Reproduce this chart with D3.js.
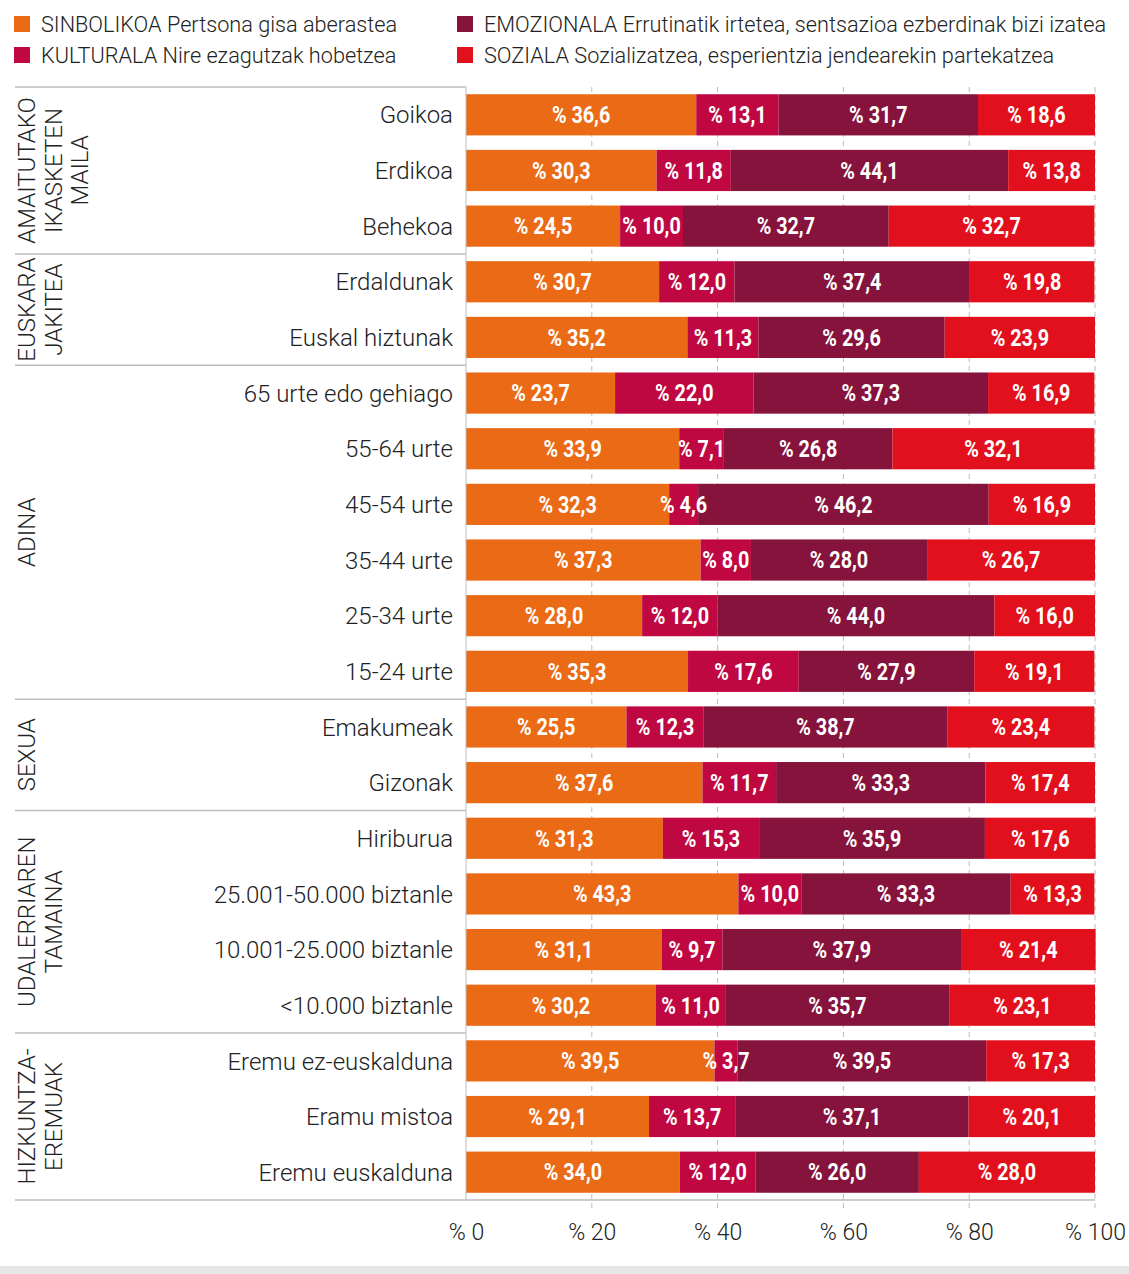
<!DOCTYPE html>
<html><head><meta charset="utf-8">
<script src="https://cdn.jsdelivr.net/npm/d3@7"></script>
<style>
body{margin:0;background:#fff;}
svg{display:block;}
</style></head>
<body>
<script>
const categories = ["Goikoa","Erdikoa","Behekoa","Erdaldunak","Euskal hiztunak","65 urte edo gehiago","55-64 urte","45-54 urte","35-44 urte","25-34 urte","15-24 urte","Emakumeak","Gizonak","Hiriburua","25.001-50.000 biztanle","10.001-25.000 biztanle","<10.000 biztanle","Eremu ez-euskalduna","Eramu mistoa","Eremu euskalduna"];
const sinbolikoa = [36.6,30.3,24.5,30.7,35.2,23.7,33.9,32.3,37.3,28.0,35.3,25.5,37.6,31.3,43.3,31.1,30.2,39.5,29.1,34.0];
const kulturala  = [13.1,11.8,10.0,12.0,11.3,22.0,7.1,4.6,8.0,12.0,17.6,12.3,11.7,15.3,10.0,9.7,11.0,3.7,13.7,12.0];
const emozionala = [31.7,44.1,32.7,37.4,29.6,37.3,26.8,46.2,28.0,44.0,27.9,38.7,33.3,35.9,33.3,37.9,35.7,39.5,37.1,26.0];
const soziala    = [18.6,13.8,32.7,19.8,23.9,16.9,32.1,16.9,26.7,16.0,19.1,23.4,17.4,17.6,13.3,21.4,23.1,17.3,20.1,28.0];
const seriesNames = ["SINBOLIKOA Pertsona gisa aberastea","KULTURALA Nire ezagutzak hobetzea","EMOZIONALA Errutinatik irtetea, sentsazioa ezberdinak bizi izatea","SOZIALA Sozializatzea, esperientzia jendearekin partekatzea"];
const groupNames = [["AMAITUTAKO","IKASKETEN","MAILA"],["EUSKARA","JAKITEA"],["ADINA"],["SEXUA"],["UDALERRIAREN","TAMAINA"],["HIZKUNTZA-","EREMUAK"]];
const groupSizes = [3,2,6,2,4,3];
const xTicks = [0,20,40,60,80,100];
const colors = ["#EB6A16","#BF0741","#85133B","#E2101C"];

const W = 1129, H = 1274;
const svg = d3.select("body").append("svg").attr("width",W).attr("height",H);
const lightFont = "Roboto";
const valFont = "Roboto";

const x = d3.scaleLinear().domain([0,100]).range([466,1095]);
const y = d3.scaleBand().domain(categories).range([87,1200]).paddingInner(0.26).paddingOuter(0.13);

// gridlines
svg.append("g").selectAll("line").data(xTicks.slice(1)).join("line")
  .attr("x1",d=>x(d)).attr("x2",d=>x(d)).attr("y1",87).attr("y2",1208)
  .attr("stroke","#bdbdbd").attr("stroke-width",1).attr("stroke-dasharray","5,4");

// stacked bars
const rows = categories.map((c,i)=>({cat:c, vals:[sinbolikoa[i],kulturala[i],emozionala[i],soziala[i]]}));
const segs = [];
rows.forEach(r=>{ let acc=0; r.vals.forEach((v,k)=>{ segs.push({cat:r.cat,k,v,x0:acc,x1:acc+v}); acc+=v; }); });
const bars = svg.append("g");
bars.selectAll("rect").data(segs).join("rect")
  .attr("x",d=>x(d.x0)).attr("width",d=>x(d.x1)-x(d.x0))
  .attr("y",d=>y(d.cat)).attr("height",y.bandwidth())
  .attr("fill",d=>colors[d.k]);
bars.selectAll("text").data(segs).join("text")
  .attr("transform",d=>`translate(${(x(d.x0)+x(d.x1))/2},${y(d.cat)+y.bandwidth()/2}) scale(0.86,1)`)
  .attr("dy","0.36em").attr("text-anchor","middle")
  .attr("fill","#fff").attr("font-family",valFont).attr("font-weight","bold")
  .attr("font-size",23)
  .text(d=>"% "+d3.format(".1f")(d.v).replace(".",","));

// axis line (left) and bottom
svg.append("line").attr("x1",466).attr("x2",466).attr("y1",87).attr("y2",1200).attr("stroke","#bdbdbd");
svg.append("line").attr("x1",15).attr("x2",1095).attr("y1",1200).attr("y2",1200).attr("stroke","#bdbdbd").attr("stroke-width",1.5);

// x tick labels
const xAxis = d3.axisBottom(x).tickValues(xTicks).tickSize(0).tickPadding(0).tickFormat(d=>"% "+d);
const ax = svg.append("g").attr("transform","translate(0,1240)").call(xAxis);
ax.select(".domain").remove();
ax.selectAll("text").attr("font-family",lightFont).attr("font-weight",300).attr("font-size",23).attr("fill","#222").attr("dy","0");

// category labels
svg.append("g").selectAll("text").data(categories).join("text")
  .attr("x",453).attr("y",d=>y(d)+y.bandwidth()/2).attr("dy","0.36em")
  .attr("text-anchor","end").attr("font-family",lightFont).attr("font-weight",300)
  .attr("font-size",24).attr("fill","#222").text(d=>d);

// groups
let start = 0;
const gG = svg.append("g");
groupSizes.forEach((n,gi)=>{
  const first = categories[start], last = categories[start+n-1];
  const top = y(first) - y.step()*y.paddingInner()/2;
  const bot = y(last) + y.bandwidth() + y.step()*y.paddingInner()/2;
  if (gi===0) gG.append("line").attr("x1",15).attr("x2",466).attr("y1",top).attr("y2",top).attr("stroke","#bdbdbd").attr("stroke-width",1.5);
  if (gi<groupSizes.length-1) gG.append("line").attr("x1",15).attr("x2",466).attr("y1",bot).attr("y2",bot).attr("stroke","#bdbdbd").attr("stroke-width",1.5);
  const cy = (top+bot)/2;
  groupNames[gi].forEach((line,li)=>{
    gG.append("text").attr("transform",`translate(${35+li*26.5},${cy}) rotate(-90)`)
      .attr("text-anchor","middle").attr("font-family",lightFont).attr("font-weight",300)
      .attr("font-size",24).attr("fill","#222").text(line);
  });
  start += n;
});

// legend
const leg = svg.append("g");
const legPos = [[14,24],[14,55],[457,24],[457,55]];
seriesNames.forEach((s,i)=>{
  const [lx,ly] = legPos[i];
  leg.append("rect").attr("x",lx).attr("y",ly-8).attr("width",16).attr("height",16).attr("fill",colors[i]);
  leg.append("text").attr("x",lx+27).attr("y",ly).attr("dy","0.36em").attr("font-family",lightFont)
    .attr("font-weight",300).attr("font-size",21.7).attr("fill","#222").text(s);
});

// bottom shade
svg.append("rect").attr("x",0).attr("y",1266).attr("width",W).attr("height",8).attr("fill","#e6e6e6");
</script>
</body></html>
